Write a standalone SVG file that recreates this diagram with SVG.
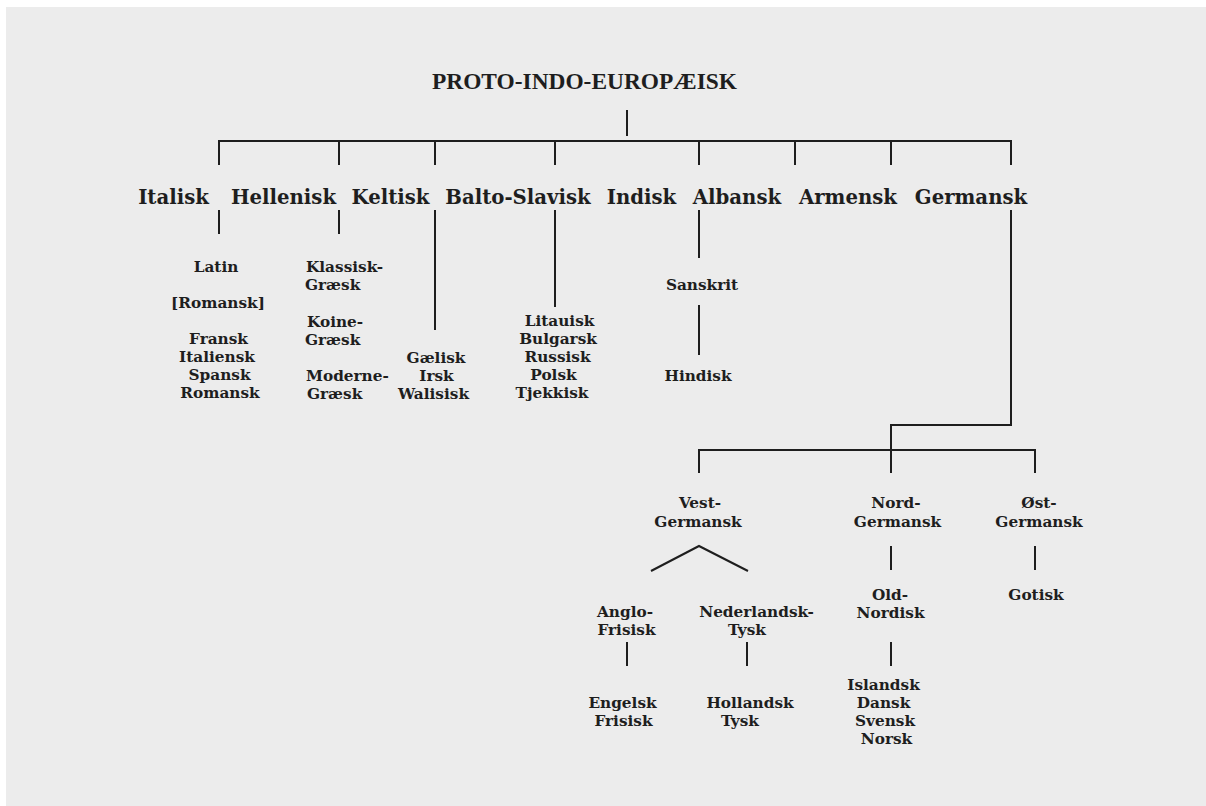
<svg xmlns="http://www.w3.org/2000/svg" width="1206" height="806" viewBox="0 0 1206 806">
<style>
.t{font-family:"Liberation Serif","Times New Roman",serif;font-weight:bold;font-size:23.4px;fill:#1e1e1e;text-anchor:middle}
.a{font-family:"DejaVu Serif",Georgia,serif;font-weight:bold;font-size:19.7px;fill:#1e1e1e;text-anchor:middle}
.b{font-family:"DejaVu Serif",Georgia,serif;font-weight:bold;font-size:15.3px;fill:#1e1e1e;text-anchor:middle}
.s{text-anchor:start}
.c{fill:none;stroke:#1e1e1e;stroke-width:2}
</style>
<rect x="0" y="0" width="1206" height="806" fill="#ffffff"/>
<rect x="6" y="7" width="1200" height="799" fill="#ececec"/>
<g id="connectors" class="c">
<path d="M627 110V136"/>
<path d="M219 165V141H1011V165"/>
<path d="M339 141V165M435 141V165M555 141V165M699 141V165M795 141V165M891 141V165"/>
<path d="M219 210V234M339 210V234M435 210V330M555 210V307M699 210V258M699 305V355"/>
<path d="M1011 210V425H891V473"/>
<path d="M699 473V450H1035V473"/>
<path d="M651 571L699 546L748 571"/>
<path d="M891 546V570M1035 546V570"/>
<path d="M627 642V666M747 642V666M891 642V666"/>
</g>
<g id="pie"><text class="t" x="584.5" y="89">PROTO-INDO-EUROPÆISK</text></g>
<g id="italisk"><text class="a" x="173.5" y="204">Italisk</text></g>
<g id="hellenisk"><text class="a" x="283.5" y="204">Hellenisk</text></g>
<g id="keltisk"><text class="a" x="390.5" y="204">Keltisk</text></g>
<g id="balto-slavisk"><text class="a" x="518" y="204">Balto-Slavisk</text></g>
<g id="indisk"><text class="a" x="641.5" y="204">Indisk</text></g>
<g id="albansk"><text class="a" x="737" y="204">Albansk</text></g>
<g id="armensk"><text class="a" x="848" y="204">Armensk</text></g>
<g id="germansk"><text class="a" x="971" y="204">Germansk</text></g>
<g id="latin"><text class="b" x="216" y="272">Latin</text></g>
<g id="romansk-group"><text class="b" x="218" y="308">[Romansk]</text></g>
<g id="romance-langs" class="b">
<text class="b" x="218.5" y="344">Fransk</text>
<text class="b" x="217" y="362">Italiensk</text>
<text class="b" x="219.5" y="380">Spansk</text>
<text class="b" x="220" y="398">Romansk</text>
</g>
<g id="klassisk-graesk"><text class="b s" x="306" y="272">Klassisk-</text><text class="b s" x="305" y="290">Græsk</text></g>
<g id="koine-graesk"><text class="b s" x="307" y="326.5">Koine-</text><text class="b s" x="305" y="344.5">Græsk</text></g>
<g id="moderne-graesk"><text class="b s" x="306" y="380.5">Moderne-</text><text class="b s" x="307" y="398.5">Græsk</text></g>
<g id="celtic-langs">
<text class="b" x="436" y="362.5">Gælisk</text>
<text class="b" x="436.5" y="380.5">Irsk</text>
<text class="b" x="433.5" y="398.5">Walisisk</text>
</g>
<g id="baltoslavic-langs">
<text class="b" x="559.5" y="326">Litauisk</text>
<text class="b" x="558" y="344">Bulgarsk</text>
<text class="b" x="557.5" y="362">Russisk</text>
<text class="b" x="553.5" y="380">Polsk</text>
<text class="b" x="552" y="398">Tjekkisk</text>
</g>
<g id="sanskrit"><text class="b" x="702" y="290">Sanskrit</text></g>
<g id="hindisk"><text class="b" x="698" y="380.5">Hindisk</text></g>
<g id="vest-germansk"><text class="b" x="700" y="508">Vest-</text><text class="b" x="698" y="526.5">Germansk</text></g>
<g id="nord-germansk"><text class="b" x="896" y="508">Nord-</text><text class="b" x="897.5" y="526.5">Germansk</text></g>
<g id="ost-germansk"><text class="b" x="1039" y="508">Øst-</text><text class="b" x="1039" y="526.5">Germansk</text></g>
<g id="old-nordisk"><text class="b" x="890" y="600">Old-</text><text class="b" x="890.5" y="617.5">Nordisk</text></g>
<g id="gotisk"><text class="b" x="1036" y="600">Gotisk</text></g>
<g id="anglo-frisisk"><text class="b" x="625" y="617">Anglo-</text><text class="b" x="626.5" y="635">Frisisk</text></g>
<g id="nederlandsk-tysk"><text class="b" x="756.5" y="617">Nederlandsk-</text><text class="b" x="747" y="635">Tysk</text></g>
<g id="engelsk-frisisk"><text class="b" x="622.5" y="708">Engelsk</text><text class="b" x="623.5" y="726">Frisisk</text></g>
<g id="hollandsk-tysk"><text class="b" x="750" y="708">Hollandsk</text><text class="b" x="740" y="726">Tysk</text></g>
<g id="nordic-langs">
<text class="b" x="883.5" y="690">Islandsk</text>
<text class="b" x="883.5" y="708">Dansk</text>
<text class="b" x="885" y="726">Svensk</text>
<text class="b" x="886.5" y="744">Norsk</text>
</g>
</svg>
